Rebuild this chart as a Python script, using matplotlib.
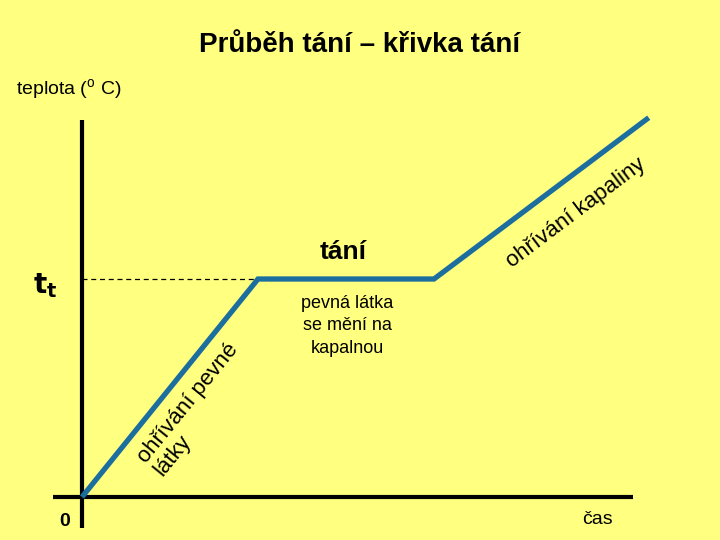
import matplotlib.pyplot as plt

# schematic melting curve: time (arbitrary units) vs temperature (t_t = 1)
time = [0, 5, 10, 16.1]
temp = [0, 1, 1, 1.74]
t_melt = 1

BG = "#FFFF80"
BLUE = "#1B6E9E"
SANS = ["Liberation Sans", "DejaVu Sans"]

fig = plt.figure(figsize=(7.2, 5.4), dpi=100)
fig.patch.set_facecolor(BG)

# one axes over the whole figure, scaled so the origin sits at (82, 497) px
px_x, px_y = 35.2, 218.0
ax = fig.add_axes([0, 0, 1, 1])
ax.set_xlim(-82 / px_x, (720 - 82) / px_x)
ax.set_ylim(-(540 - 497) / px_y, 497 / px_y)
ax.set_facecolor(BG)
ax.axis("off")

# axes (plain lines, no ticks)
ax.plot([-29 / px_x, 551 / px_x], [0, 0], color="black", lw=3, solid_capstyle="butt")
ax.plot([0, 0], [-31 / px_y, 377 / px_y], color="black", lw=3, solid_capstyle="butt")

# dashed helper at melting temperature
ax.plot([0, time[1]], [t_melt, t_melt], color="black", lw=0.9, ls=(0, (4, 3)))

# the curve
ax.plot(time, temp, color=BLUE, lw=3.8, solid_joinstyle="miter", solid_capstyle="butt")

fig.text(0.5, 1 - 45 / 540, "Průběh tání – křivka tání", ha="center", va="center",
         fontsize=20, fontweight="bold", family=SANS)
fig.text(16 / 720, 1 - 90 / 540, r"teplota ($^\mathregular{o}$ C)", ha="left",
         va="center", fontsize=14, family=SANS)

fig.text(45 / 720, 1 - 286 / 540, r"$\mathbf{t_t}$", ha="center", va="center",
         fontsize=20)
fig.text(65 / 720, 1 - 522 / 540, "0", ha="center", va="center", fontsize=14,
         fontweight="bold", family=SANS)
fig.text(597 / 720, 1 - 520 / 540, "čas", ha="center", va="center", fontsize=14,
         family=SANS)

fig.text(343 / 720, 1 - 252 / 540, "tání", ha="center", va="center", fontsize=19,
         fontweight="bold", family=SANS)
fig.text(347 / 720, 1 - 326 / 540, "pevná látka\nse mění na\nkapalnou", ha="center",
         va="center", fontsize=13, family=SANS, linespacing=1.4)

fig.text(196 / 720, 1 - 410 / 540, "ohřívání pevné\nlátky", ha="center", va="center",
         rotation=51, rotation_mode="anchor", multialignment="left",
         fontsize=16, family=SANS, linespacing=1.0)
fig.text(576 / 720, 1 - 213 / 540, "ohřívání kapaliny", ha="center", va="center",
         rotation=37, rotation_mode="anchor", fontsize=16, family=SANS)

fig.savefig("out.png", dpi=100, facecolor=BG)
